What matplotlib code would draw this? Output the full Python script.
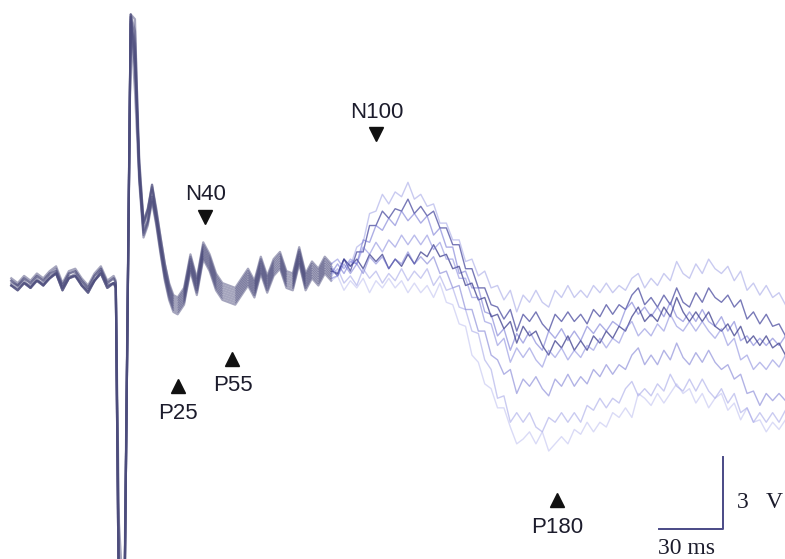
import numpy as np
import matplotlib
matplotlib.use("Agg")
import matplotlib.pyplot as plt

# sample times (ms), finer around the stimulus artefact
t_ms = np.concatenate([np.arange(-51, -2, 3), [-2, -0.5, 2, 5, 7],
                       np.arange(9, 26, 2), np.arange(27, 313, 3)])

# channel traces (uV, negative up)
chan_a = [-0.2, 0.0, -0.3, -0.1, -0.4, -0.2, -0.5, -0.7, 0.0, -0.5, -0.6, -0.2, 0.1, -0.4, -0.7, -0.1, -0.3, -0.1,
          14, 14, -11.0, -9.0,
          -5.0, -2.6, -3.1, -4.0, -3.0, -1.9, -0.8, 0.1, 0.6,
          0.7, 0.3, -1.1, -0.1, -1.6, -1.1, -0.3, 0.1, 0.2, 0.3, -0.1, -0.5, 0.0, -1.0, -0.2, -0.9, -1.2, -0.4, -0.3, -1.4, -0.3, -0.8, -0.5, -1.0, -0.7,
          -0.4, -1.0, -0.7, -1.5, -1.7, -2.9, -3.0, -3.7, -3.3, -3.8, -3.6, -4.2, -3.5, -3.7, -3.2, -3.3, -2.5, -2.5, -1.8, -1.8,
          -0.9, -1.0, -0.3, -0.5, 0.2, 0.1, 0.7, 0.3, 1.2, 0.5, 0.8, 0.3, 0.8, 1.0, 0.3, 0.6, 0.1, 0.6, 0.3, 0.6,
          0.1, 0.4, 0.0, 0.4, 0.1, 0.3, -0.2, -0.4, 0.2, -0.2, 0.1, -0.4, -0.1, -0.9, -0.4, -0.2, -0.8, -0.4, -1.0, -0.6,
          -0.4, -0.7, -0.1, -0.5, 0.3, 0.0, 0.5, 0.1, 0.6, 0.4, 0.9]
chan_b = [-0.1, 0.1, -0.2, 0.0, -0.3, -0.1, -0.4, -0.6, 0.1, -0.4, -0.5, -0.1, 0.2, -0.3, -0.6, 0.0, -0.2, 0.0,
          14, 14, -11.2, -10.5,
          -5.2, -2.5, -3.0, -4.1, -2.9, -1.7, -0.6, 0.2, 0.7,
          0.8, 0.4, -1.0, 0.0, -1.5, -1.0, -0.2, 0.2, 0.3, 0.4, 0.0, -0.4, 0.1, -0.9, -0.1, -0.8, -1.1, -0.3, -0.2, -1.3, -0.2, -0.7, -0.4, -0.9, -0.6,
          -0.3, -1.0, -0.5, -1.3, -1.3, -2.4, -2.4, -3.0, -2.7, -3.1, -3.0, -3.5, -2.9, -3.2, -2.8, -3.0, -2.3, -2.3, -1.6, -1.6,
          -0.6, -0.6, 0.2, 0.2, 0.9, 1.0, 1.5, 1.1, 2.0, 1.3, 1.6, 1.2, 1.7, 2.0, 1.3, 1.6, 1.2, 1.6, 1.3, 1.7,
          1.1, 1.4, 0.9, 1.3, 0.9, 1.1, 0.5, 0.2, 0.9, 0.6, 1.0, 0.5, 0.9, 0.2, 0.8, 1.0, 0.4, 0.8, 0.2, 0.6,
          0.8, 0.5, 1.0, 0.7, 1.5, 1.2, 1.7, 1.3, 1.8, 1.7, 2.2]
chan_c = [0.1, 0.3, 0.0, 0.2, -0.1, 0.1, -0.2, -0.4, 0.3, -0.2, -0.3, 0.1, 0.4, -0.1, -0.4, 0.2, 0.0, 0.2,
          12, 14, -11.1, -9.7,
          -4.5, -2.2, -2.6, -3.6, -2.7, -1.5, -0.4, 0.4, 0.9,
          1.0, 0.6, -0.8, 0.2, -1.3, -0.8, 0.0, 0.4, 0.5, 0.6, 0.2, -0.2, 0.3, -0.7, 0.1, -0.6, -0.9, -0.1, 0.0, -1.1, 0.0, -0.5, -0.2, -0.7, -0.4,
          -0.8, -0.4, -0.9, -0.8, -1.8, -1.7, -2.4, -2.2, -2.7, -2.4, -3.0, -2.6, -2.9, -2.5, -2.8, -2.0, -2.3, -1.5, -1.5, -0.4,
          -0.5, 0.2, 0.2, 1.2, 1.3, 2.2, 1.9, 2.8, 2.1, 2.5, 2.0, 2.5, 2.8, 2.0, 2.3, 1.9, 2.4, 2.0, 2.4, 1.8,
          2.1, 1.7, 2.0, 1.6, 1.8, 1.1, 0.8, 1.3, 1.0, 1.4, 1.0, 1.4, 0.8, 1.4, 1.6, 1.2, 1.6, 1.1, 1.6, 1.8,
          1.4, 2.0, 1.6, 2.4, 2.2, 2.6, 2.3, 2.6, 2.3, 2.6, 2.2]
chan_j = [0.0, 0.1, -0.1, 0.2, -0.2, 0.1, -0.3, -0.4, 0.2, -0.3, -0.3, 0.0, 0.3, -0.1, -0.5, 0.1, 0.0, 0.1,
          14, 13, -11.2, -10,
          -4.8, -2.4, -2.9, -3.9, -2.8, -1.6, -0.5, 0.3, 0.8,
          0.9, 0.5, -0.9, 0.1, -1.4, -0.9, -0.1, 0.3, 0.4, 0.5, 0.1, -0.3, 0.2, -0.8, 0.0, -0.7, -1.0, -0.2, -0.1, -1.2, -0.1, -0.6, -0.3, -0.8, -0.5,
          -0.4, -1.0, -0.7, -1.0, -0.6, -1.2, -0.9, -1.2, -0.6, -1.0, -0.7, -1.2, -0.8, -1.3, -1.1, -1.6, -1.1, -1.2, -0.6, -0.7,
          0.1, 0.0, 0.7, 0.6, 1.4, 1.3, 1.9, 1.6, 2.5, 1.8, 2.2, 2.0, 2.6, 3.0, 2.4, 2.7, 2.2, 2.8, 2.4, 2.8,
          2.2, 2.5, 2.0, 2.3, 1.8, 2.0, 1.4, 1.0, 1.6, 1.3, 1.6, 1.0, 1.4, 0.6, 1.2, 1.6, 1.2, 1.6, 1.2, 1.8,
          2.0, 1.7, 2.2, 1.8, 2.5, 2.2, 2.6, 2.2, 2.7, 2.5, 3.0]
chan_d = [-0.1, 0.1, -0.2, 0.0, -0.3, -0.1, -0.4, -0.5, 0.1, -0.4, -0.5, -0.1, 0.2, -0.3, -0.6, 0.0, -0.2, 0.0,
          14, 14, -10.9, -9.0,
          -4.6, -2.5, -3.1, -4.1, -3.1, -1.9, -0.8, 0.0, 0.5,
          0.6, 0.2, -1.2, -0.2, -1.7, -1.2, -0.4, 0.0, 0.1, 0.2, -0.2, -0.6, -0.1, -1.1, -0.3, -1.0, -1.3, -0.5, -0.4, -1.5, -0.4, -0.9, -0.6, -1.1, -0.8,
          -1.0, -0.6, -1.0, -0.8, -1.5, -1.2, -1.7, -1.3, -1.8, -1.5, -2.0, -1.6, -2.0, -1.6, -2.0, -1.4, -1.7, -1.0, -1.0, -0.2,
          -0.2, 0.6, 0.6, 1.6, 1.7, 2.6, 2.3, 3.3, 2.7, 3.1, 2.7, 3.2, 3.5, 2.8, 3.1, 2.7, 3.2, 2.8, 3.1, 2.6,
          2.8, 2.3, 2.7, 2.3, 2.5, 1.9, 1.6, 2.2, 1.9, 2.2, 1.7, 2.0, 1.3, 1.8, 2.0, 1.6, 2.0, 1.6, 2.0, 2.3,
          1.9, 2.6, 2.3, 3.2, 3.0, 3.6, 3.3, 3.6, 3.2, 3.5, 3.0]
chan_f = [0.1, 0.3, 0.0, 0.2, -0.1, 0.1, -0.2, -0.4, 0.3, -0.2, -0.3, 0.1, 0.4, -0.1, -0.4, 0.2, 0.0, 0.2,
          13, 14, -11.2, -11,
          -4.4, -2.0, -2.5, -3.5, -2.5, -1.3, -0.2, 0.6, 1.1,
          1.2, 0.8, -0.6, 0.4, -1.1, -0.6, 0.2, 0.6, 0.7, 0.8, 0.4, 0.0, 0.5, -0.5, 0.3, -0.4, -0.7, 0.1, 0.2, -0.9, 0.2, -0.3, 0.0, -0.5, -0.2,
          -0.3, -0.8, -0.4, -0.8, -0.4, -1.1, -0.8, -1.1, -0.6, -1.0, -0.8, -1.3, -0.8, -1.1, -0.8, -1.1, -0.4, -0.5, 0.2, 0.1,
          1.1, 1.1, 2.0, 2.0, 3.0, 3.2, 3.8, 3.6, 4.6, 4.0, 4.3, 3.9, 4.4, 4.7, 4.0, 4.3, 3.8, 4.3, 3.9, 4.2,
          3.6, 3.9, 3.4, 3.8, 3.4, 3.6, 3.0, 2.7, 3.4, 3.0, 3.4, 2.8, 3.2, 2.5, 3.1, 3.4, 2.9, 3.3, 2.8, 3.3,
          3.6, 3.4, 4.0, 3.8, 4.6, 4.5, 5.1, 4.6, 4.9, 4.6, 4.9]
chan_h = [0.1, 0.2, 0.0, 0.1, -0.1, 0.0, -0.2, -0.5, 0.2, -0.2, -0.4, 0.1, 0.3, -0.1, -0.5, 0.1, 0.0, 0.1,
          14, 14, -11.1, -9.5,
          -4.5, -2.1, -2.6, -3.6, -2.6, -1.4, -0.3, 0.5, 1.0,
          1.1, 0.7, -0.7, 0.3, -1.2, -0.7, 0.1, 0.5, 0.6, 0.7, 0.3, -0.1, 0.4, -0.6, 0.2, -0.5, -0.8, 0.0, 0.1, -1.0, 0.1, -0.4, -0.1, -0.6, -0.3,
          -0.6, 0.0, -0.3, 0.1, -0.6, -0.2, -0.5, 0.0, -0.4, -0.1, -0.6, -0.1, -0.5, -0.2, -0.6, 0.1, -0.3, 0.3, 0.2, 1.0,
          1.1, 2.0, 2.1, 3.2, 3.6, 4.8, 4.7, 5.8, 5.4, 5.8, 5.4, 6.0, 6.2, 5.6, 5.8, 5.4, 5.8, 5.4, 5.8, 5.1,
          5.3, 4.8, 5.2, 4.8, 5.0, 4.4, 4.1, 4.7, 4.4, 4.7, 4.2, 4.5, 3.8, 4.3, 4.5, 4.0, 4.5, 4.0, 4.5, 4.8,
          4.4, 5.0, 4.6, 5.4, 5.2, 5.8, 5.4, 5.8, 5.4, 5.8, 5.3]
chan_i = [0.1, 0.3, 0.0, 0.2, -0.1, 0.1, -0.2, -0.4, 0.3, -0.2, -0.3, 0.1, 0.4, -0.1, -0.4, 0.2, 0.0, 0.2,
          10, 14, -10.8, -8,
          -4.2, -1.9, -2.4, -3.4, -2.4, -1.2, -0.1, 0.7, 1.2,
          1.3, 0.9, -0.5, 0.5, -1.0, -0.5, 0.3, 0.7, 0.8, 0.9, 0.5, 0.1, 0.6, -0.4, 0.4, -0.3, -0.6, 0.2, 0.3, -0.8, 0.3, -0.2, 0.1, -0.4, -0.1,
          -0.3, 0.3, -0.1, 0.2, -0.2, 0.4, -0.1, 0.2, -0.2, 0.2, -0.1, 0.4, 0.0, 0.4, 0.1, 0.6, 0.0, 0.8, 0.9, 1.7,
          1.8, 3.0, 3.3, 4.2, 4.4, 5.2, 5.2, 6.0, 6.7, 6.5, 6.2, 6.7, 6.2, 7.0, 6.7, 6.4, 6.7, 6.1, 6.3, 5.8,
          6.2, 5.8, 6.0, 5.4, 5.6, 5.2, 5.6, 4.6, 4.8, 5.1, 4.6, 5.0, 4.6, 4.2, 4.6, 4.4, 5.0, 4.6, 5.2, 4.8,
          4.6, 5.3, 5.0, 5.7, 5.2, 5.8, 5.7, 6.2, 5.8, 6.1, 5.7]

channels = [chan_a, chan_b, chan_c, chan_j, chan_d, chan_f, chan_h, chan_i]
for ch in channels:
    assert len(ch) == len(t_ms), len(ch)

# peak labels: name, latency (ms), amplitude (uV)
peak_names = ["N40", "N100", "P25", "P55", "P180"]
peak_ms = [39.9, 120.2, 27.0, 52.7, 204.9]
peak_uv = [-2.75, -6.2, 4.3, 3.15, 9.04]

# line looks: early part dark and dense, late part light
colors = ["#9497e2", "#3f4099", "#6a6cd0", "#3c3d8c", "#7679d8", "#6668cc", "#8a8ce0", "#a3a5ea"]
alphas = [0.5, 0.7, 0.55, 0.75, 0.5, 0.5, 0.45, 0.4]
early_end = 56  # samples up to 99 ms

fig = plt.figure(figsize=(7.85, 5.59), dpi=100)
ax = fig.add_axes([0, 0, 1, 1])

for ch, c, a in zip(channels, colors, alphas):
    ax.plot(t_ms[:early_end], ch[:early_end], color="#4c4c7c", alpha=0.5, lw=1.6,
            solid_joinstyle="round")
    ax.plot(t_ms[early_end - 1:], ch[early_end - 1:], color=c, alpha=a, lw=1.0,
            solid_joinstyle="round")

for name, t, v in zip(peak_names, peak_ms, peak_uv):
    neg = name.startswith("N")
    ax.plot(t, v, marker="v" if neg else "^", color="#111111", ms=9.5, ls="none")
    ax.annotate(name, (t, v), xytext=(0, 16 if neg else -19.5), textcoords="offset points",
                ha="center", va="center", fontsize=16, family="Liberation Sans", color="#1c1c2c")

# scale bar 30 ms x 3 uV
bar_t, bar_v = 282.7, 10.25
ax.plot([bar_t - 30, bar_t, bar_t], [bar_v, bar_v, bar_v - 3], color="#4a4a86", lw=1.4)
ax.text(bar_t + 6.6, bar_v - 1.12, "3   V", family="Liberation Serif", fontsize=17,
        ha="left", va="center", color="#1c1c2c")
ax.text(bar_t - 17.3, bar_v + 0.82, "30 ms", family="Liberation Serif", fontsize=17,
        ha="center", va="center", color="#1c1c2c")

ax.set_xlim(-56.3, 311.8)
ax.set_ylim(11.5, -11.8)
ax.axis("off")

fig.savefig("out.png", dpi=100)
